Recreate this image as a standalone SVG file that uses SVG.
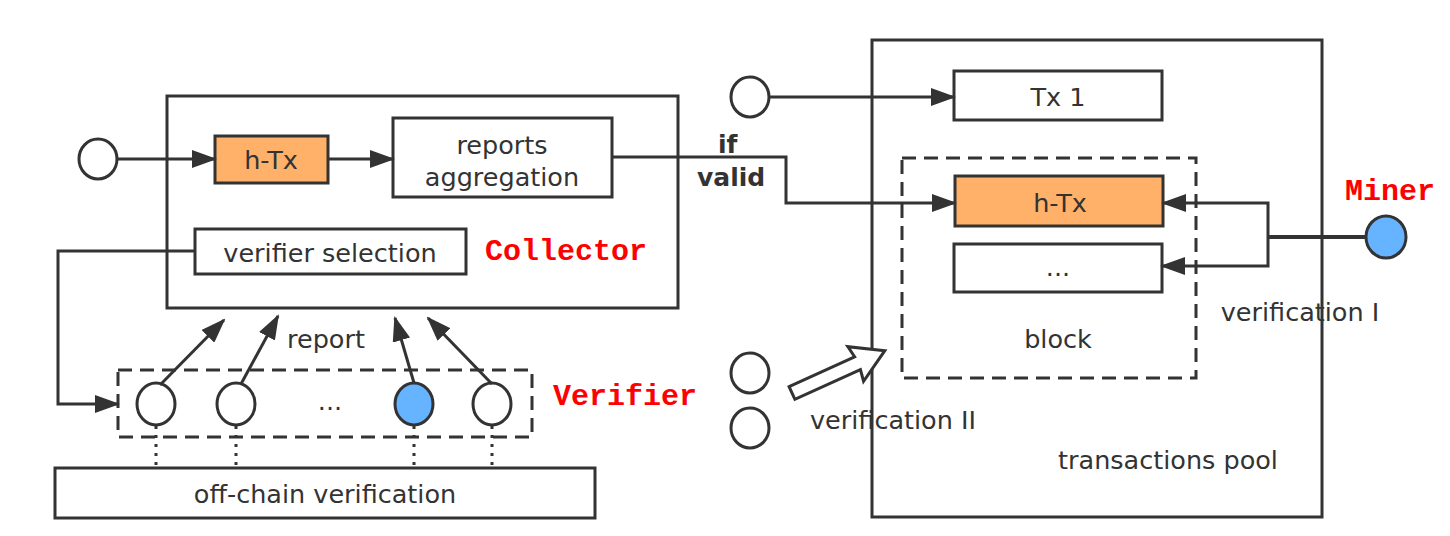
<svg xmlns="http://www.w3.org/2000/svg" width="1450" height="536" viewBox="0 0 1450 536">
<defs>
<style>
.box{fill:#fff;stroke:#333;stroke-width:3}
.org{fill:#ffb169;stroke:#333;stroke-width:3}
.dash{fill:none;stroke:#333;stroke-width:3;stroke-dasharray:14 8}
.ln{fill:none;stroke:#333;stroke-width:3}
.arr{fill:none;stroke:#333;stroke-width:3;marker-end:url(#ah)}
.dot{fill:none;stroke:#333;stroke-width:3;stroke-dasharray:3 6}
.circ{fill:#fff;stroke:#333;stroke-width:3}
.blue{fill:#66b3ff;stroke:#333;stroke-width:3}
.t{font-family:"DejaVu Sans",Verdana,sans-serif;font-size:25.5px;fill:#333;text-anchor:middle}
.b{font-family:"DejaVu Sans",Verdana,sans-serif;font-size:25px;font-weight:bold;fill:#333}
.red{font-family:"Liberation Mono","Courier New",monospace;font-size:30px;font-weight:bold;fill:#f00}
</style>
<marker id="ah" markerWidth="25" markerHeight="18" refX="23" refY="9" orient="auto" markerUnits="userSpaceOnUse">
<path d="M0,0 L25,9 L0,18 Z" fill="#333"/>
</marker>
</defs>

<g id="collector">
<rect class="box" x="167" y="96" width="511" height="212"/>
<text class="red" x="485" y="260">Collector</text>
</g>
<g id="input-circle"><ellipse class="circ" cx="98" cy="159" rx="19" ry="20"/></g>
<g id="htx1"><rect class="org" x="215" y="136" width="113" height="47"/><text class="t" x="271" y="169">h-Tx</text></g>
<g id="aggregation"><rect class="box" x="393" y="118" width="219" height="79"/><text class="t" x="502" y="154">reports</text><text class="t" x="502" y="186">aggregation</text></g>
<g id="selection"><rect class="box" x="195" y="229" width="271" height="45"/><text class="t" x="330" y="262">verifier selection</text></g>

<g id="verifier">
<rect class="dash" x="118" y="370" width="414" height="67"/>
<ellipse class="circ" cx="156" cy="404" rx="19" ry="21"/>
<ellipse class="circ" cx="236" cy="404" rx="19" ry="21"/>
<text class="t" x="330" y="410">...</text>
<ellipse class="blue" cx="414" cy="404" rx="19" ry="21"/>
<ellipse class="circ" cx="492" cy="404" rx="19" ry="21"/>
<text class="red" x="553" y="405">Verifier</text>
</g>
<g id="offchain"><rect class="box" x="55" y="468" width="540" height="50"/><text class="t" x="325" y="503">off-chain verification</text></g>

<g id="pool">
<rect class="box" x="872" y="40" width="450" height="477" style="fill:none"/>
<text class="t" x="1168" y="469">transactions pool</text>
</g>
<g id="tx-circle"><ellipse class="circ" cx="750" cy="97" rx="19" ry="20"/></g>
<g id="tx1"><rect class="box" x="954" y="71" width="208" height="49"/><text class="t" x="1058" y="106">Tx 1</text></g>
<g id="block">
<rect class="dash" x="902" y="158" width="294" height="220"/>
<text class="t" x="1058" y="348">block</text>
</g>
<g id="htx2"><rect class="org" x="955" y="176" width="208" height="50"/><text class="t" x="1060" y="212">h-Tx</text></g>
<g id="dots-box"><rect class="box" x="954" y="244" width="208" height="48"/><text class="t" x="1058" y="276">...</text></g>
<g id="miner"><ellipse class="blue" cx="1386" cy="237" rx="20" ry="21"/><text class="red" x="1345" y="200">Miner</text></g>
<g id="v2-circles">
<ellipse class="circ" cx="750" cy="373" rx="19" ry="20"/>
<ellipse class="circ" cx="750" cy="428" rx="19" ry="20"/>
</g>

<g id="connectors">
<line class="arr" x1="117" y1="159" x2="215" y2="159"/>
<line class="arr" x1="328" y1="159" x2="393" y2="159"/>
<polyline class="arr" points="195,251 58,251 58,404 118,404"/>
<line class="arr" x1="160" y1="385" x2="224" y2="320"/>
<line class="arr" x1="241" y1="384" x2="278" y2="316"/>
<line class="arr" x1="414" y1="383" x2="395" y2="318"/>
<line class="arr" x1="492" y1="384" x2="428" y2="318"/>
<line class="dot" x1="156" y1="426" x2="156" y2="468"/>
<line class="dot" x1="236" y1="426" x2="236" y2="468"/>
<line class="dot" x1="414" y1="426" x2="414" y2="468"/>
<line class="dot" x1="492" y1="426" x2="492" y2="468"/>
<line class="arr" x1="769" y1="97" x2="954" y2="97"/>
<polyline class="arr" points="612,157 786,157 786,203 955,203"/>
<line class="ln" x1="1366" y1="237" x2="1268" y2="237" style="stroke-width:4"/>
<polyline class="arr" points="1268,237 1268,203 1163,203"/>
<polyline class="arr" points="1268,237 1268,266 1162,266"/>
<polygon class="circ" points="0,-7 72,-7 70,-19 102,0 70,19 72,7 0,7" transform="translate(792,393) rotate(-24.5)"/>
</g>

<g id="labels">
<text class="t" x="326" y="348">report</text>
<text class="b" x="718" y="153">if</text>
<text class="b" x="697" y="186">valid</text>
<text class="t" x="1300" y="321">verification I</text>
<text class="t" x="893" y="429">verification II</text>
</g>
</svg>
